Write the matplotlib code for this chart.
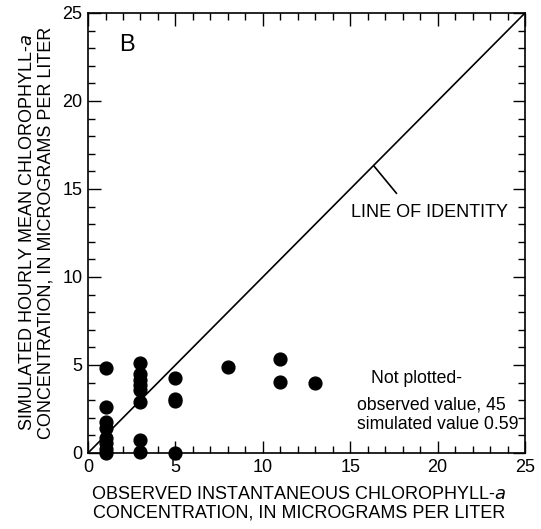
import numpy as np
import matplotlib
matplotlib.use('Agg')
import matplotlib.pyplot as plt
from matplotlib.ticker import MultipleLocator

plt.rcParams['font.family'] = ['Liberation Sans', 'DejaVu Sans']

# observed vs simulated chlorophyll-a (micrograms per liter)
observed = [1, 1, 1, 1, 1, 1, 1, 1,
            3, 3, 3, 3, 3, 3, 3, 3,
            5, 5, 5, 5,
            8, 11, 11, 13]
simulated = [4.85, 2.6, 1.75, 1.4, 0.85, 0.55, 0.25, 0.02,
             5.1, 4.5, 4.15, 3.85, 3.55, 2.9, 0.75, 0.05,
             4.25, 3.05, 2.95, 0.02,
             4.9, 5.35, 4.05, 4.0]

fig = plt.figure(figsize=(5.41, 5.29), dpi=100)
ax = fig.add_axes([0.1627, 0.1437, 0.8078, 0.8318])

# line of identity
ax.plot([0, 25], [0, 25], color='black', lw=1.2)
ax.plot([16.36, 17.64], [16.3, 14.76], color='black', lw=1.2)
ax.text(19.55, 13.65, 'LINE OF IDENTITY', ha='center', va='center', fontsize=13)

ax.scatter(observed, simulated, s=85, color='black', zorder=3, clip_on=False)

ax.text(2.2, 23.2, 'B', fontsize=17, ha='center', va='center')
ax.text(16.2, 4.25, 'Not plotted-', fontsize=12.7, va='center')
ax.text(15.4, 2.75, 'observed value, 45', fontsize=12.7, va='center')
ax.text(15.4, 1.6, 'simulated value 0.59', fontsize=12.7, va='center')

ax.set_xlim(0, 25)
ax.set_ylim(0, 25)
ax.xaxis.set_major_locator(MultipleLocator(5))
ax.xaxis.set_minor_locator(MultipleLocator(1))
ax.yaxis.set_major_locator(MultipleLocator(5))
ax.yaxis.set_minor_locator(MultipleLocator(1))
ax.tick_params(which='both', direction='in', top=True, right=True, labelsize=13, width=1)
ax.tick_params(which='major', length=9, pad=4)
ax.tick_params(which='minor', length=5)
for sp in ax.spines.values():
    sp.set_linewidth(1.2)

ax.set_xlabel('OBSERVED INSTANTANEOUS CHLOROPHYLL-$\\mathit{a}$\nCONCENTRATION, IN MICROGRAMS PER LITER',
              fontsize=13, linespacing=1.15)
ax.xaxis.set_label_coords(0.482, -0.075)
ax.xaxis.label.set_va('top')
ax.set_ylabel('SIMULATED HOURLY MEAN CHLOROPHYLL-$\\mathit{a}$\nCONCENTRATION, IN MICROGRAMS PER LITER',
              fontsize=13, labelpad=6, linespacing=1.1)

fig.savefig('out.png', dpi=100)
